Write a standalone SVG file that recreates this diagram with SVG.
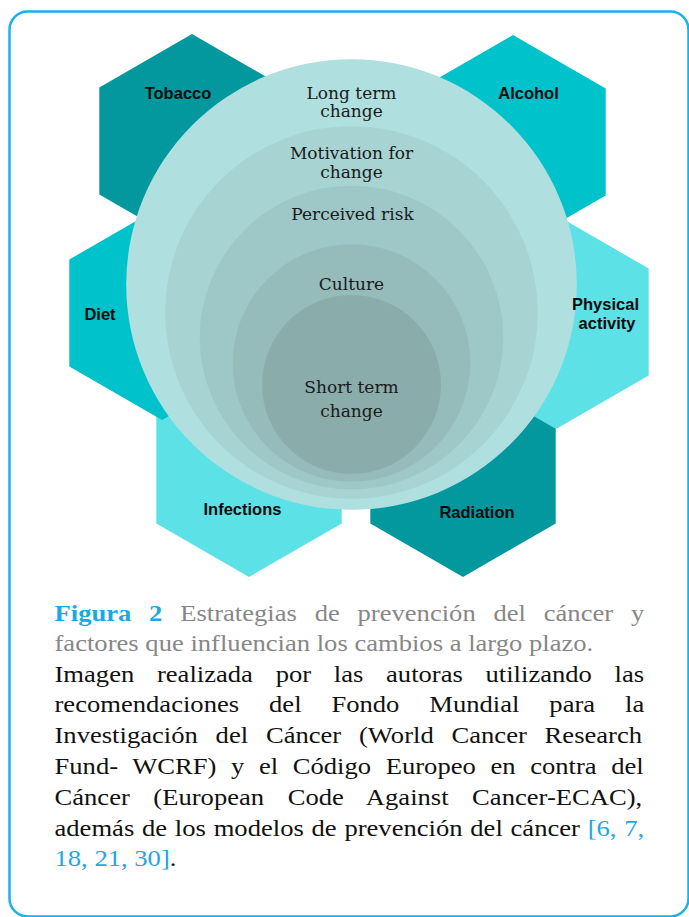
<svg xmlns="http://www.w3.org/2000/svg" width="689" height="917" viewBox="0 0 689 917">
  <style>
    .hex-dark { fill: #03989e; }
    .hex-mid { fill: #00c2cb; }
    .hex-light { fill: #5ce1e6; }
    .hex-label { font-family: "Liberation Sans", Arial, sans-serif; font-weight: bold; font-size: 16.5px; fill: #0d0d0d; text-anchor: middle; }
    .ring-label { font-family: "DejaVu Serif", "Liberation Serif", serif; font-size: 17px; fill: #1a1a1a; text-anchor: middle; }
    .cap { font-family: "Liberation Serif", "Times New Roman", serif; font-size: 23.5px; fill: #111111; }
    .cap-grey { fill: #878787; }
    .cap-blue { fill: #1ea7e4; }
    .cap-bold { font-weight: bold; }
  </style>
  <defs>
    <!-- pointy-top hexagon centred on the origin -->
    <polygon id="hexShape" points="0,-107 92.7,-53.5 92.7,53.5 0,107 -92.7,53.5 -92.7,-53.5"/>
  </defs>

  <!-- frame -->
  <rect x="9.5" y="11.5" width="679" height="905" rx="18" ry="18" fill="#ffffff" stroke="#17b1ee" stroke-width="2.5"/>

  <!-- risk-factor hexagons -->
  <g id="tobacco">
    <use href="#hexShape" class="hex-dark" transform="translate(192 141)"/>
  </g>
  <g id="alcohol">
    <use href="#hexShape" class="hex-mid" transform="translate(513 142)"/>
  </g>
  <g id="radiation">
    <use href="#hexShape" class="hex-dark" transform="translate(463 470)"/>
  </g>
  <g id="infections">
    <use href="#hexShape" class="hex-light" transform="translate(249 470)"/>
  </g>
  <g id="diet">
    <use href="#hexShape" class="hex-mid" transform="translate(162 313)"/>
  </g>
  <g id="physical-activity">
    <use href="#hexShape" class="hex-light" transform="translate(556 322)"/>
  </g>

  <!-- nested circles of change -->
  <g id="long-term-change">
    <circle cx="351.5" cy="284.5" r="225.3" fill="#b0dfdf"/>
  </g>
  <g id="motivation-for-change">
    <circle cx="351.5" cy="312.5" r="186.3" fill="#a7d3d3"/>
  </g>
  <g id="perceived-risk">
    <circle cx="351.5" cy="337.5" r="151.8" fill="#9ec8c8"/>
  </g>
  <g id="culture">
    <circle cx="351.5" cy="363" r="118.8" fill="#95bcbb"/>
  </g>
  <g id="short-term-change">
    <circle cx="351.5" cy="384.5" r="89.5" fill="#8aadac"/>
  </g>

  <!-- connectors: none drawn, the layout is concentric -->
  <g id="connectors"/>

  <!-- circle labels -->
  <g id="ring-labels">
    <text class="ring-label" x="351.5" y="98.5">Long term</text>
    <text class="ring-label" x="351.5" y="117">change</text>
    <text class="ring-label" x="351.5" y="159">Motivation for</text>
    <text class="ring-label" x="351.5" y="177.5">change</text>
    <text class="ring-label" x="352.5" y="220">Perceived risk</text>
    <text class="ring-label" x="351.5" y="290">Culture</text>
    <text class="ring-label" x="351.5" y="393">Short term</text>
    <text class="ring-label" x="351.5" y="416.5">change</text>
  </g>

  <!-- hexagon labels -->
  <g id="hex-labels">
    <text class="hex-label" x="178" y="98.5">Tobacco</text>
    <text class="hex-label" x="528.5" y="98.5">Alcohol</text>
    <text class="hex-label" x="100" y="320">Diet</text>
    <text class="hex-label" x="605.5" y="310">Physical</text>
    <text class="hex-label" x="607" y="329">activity</text>
    <text class="hex-label" x="242.5" y="515">Infections</text>
    <text class="hex-label" x="477" y="518">Radiation</text>
  </g>

  <!-- caption, justified by per-line word spacing -->
  <g id="caption" transform="translate(54.5 0) scale(1.1324 1)">
    <text class="cap cap-grey" x="0" y="621.5" word-spacing="9.82"><tspan class="cap-blue cap-bold">Figura 2</tspan> Estrategias de prevención del cáncer y</text>
    <text class="cap cap-grey" x="0" y="651">factores que influencian los cambios a largo plazo.</text>
    <text class="cap" x="0" y="681.7" word-spacing="14.17">Imagen realizada por las autoras utilizando las</text>
    <text class="cap" x="0" y="712.5" word-spacing="20.53">recomendaciones del Fondo Mundial para la</text>
    <text class="cap" x="0" y="743.3" word-spacing="9.84">Investigación del Cáncer (World Cancer Research</text>
    <text class="cap" x="0" y="774" word-spacing="7.03">Fund- WCRF) y el Código Europeo en contra del</text>
    <text class="cap" x="0" y="804.8" word-spacing="14.9">Cáncer (European Code Against Cancer-ECAC),</text>
    <text class="cap" x="0" y="835.6" word-spacing="0.97">además de los modelos de prevención del cáncer <tspan class="cap-blue">[6, 7,</tspan></text>
    <text class="cap" x="0" y="866.3"><tspan class="cap-blue">18, 21, 30]</tspan>.</text>
  </g>
</svg>
